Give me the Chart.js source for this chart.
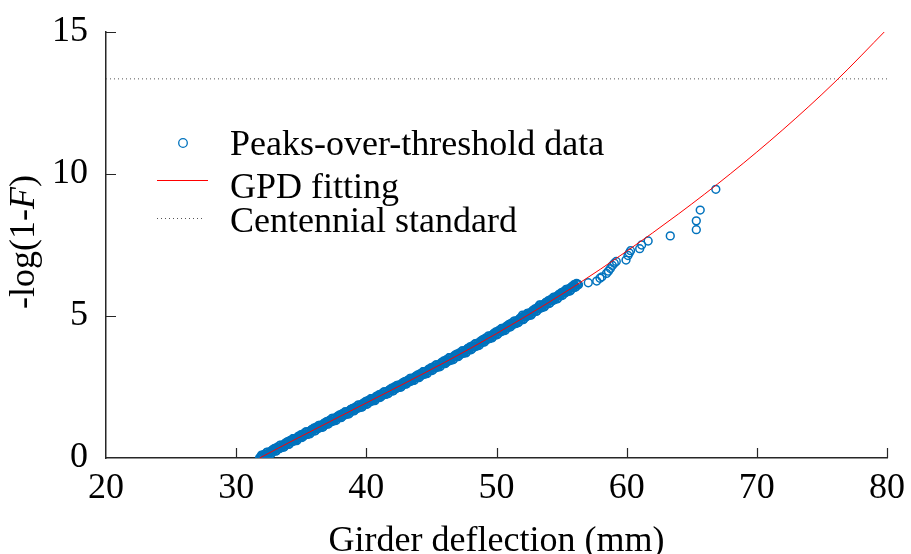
<!DOCTYPE html>
<html><head><meta charset="utf-8">
<script src="https://cdn.jsdelivr.net/npm/chart.js@4.4.1/dist/chart.umd.min.js"></script>
<style>html,body{margin:0;padding:0;background:#fff;} canvas{display:block}</style>
</head><body>
<canvas id="c" width="911" height="554"></canvas>
<script>
// ---------------- data ----------------
const xTickValues = [20, 30, 40, 50, 60, 70, 80];
const yTickValues = [0, 5, 10, 15];
const seriesLabels = ['Peaks-over-threshold data', 'GPD fitting', 'Centennial standard'];
const xTitle = 'Girder deflection (mm)';
const yTitleParts = [['-log(1-', 'normal'], ['F', 'italic'], [')', 'normal']];

// dense part of the peaks-over-threshold sample (first set)
const bandAX = [
31.8,31.9,
32.0,32.1,32.2,32.3,32.4,32.5,32.6,32.7,32.8,32.9,
33.0,33.1,33.2,33.3,33.4,33.5,33.6,33.7,33.8,33.9,
34.0,34.1,34.2,34.3,34.4,34.5,34.6,34.7,34.8,34.9,
35.0,35.1,35.2,35.3,35.4,35.5,35.6,35.7,35.8,35.9,
36.0,36.1,36.2,36.3,36.4,36.5,36.6,36.7,36.8,36.9,
37.0,37.1,37.2,37.3,37.4,37.5,37.6,37.7,37.8,37.9,
38.0,38.1,38.2,38.3,38.4,38.5,38.6,38.7,38.8,38.9,
39.0,39.1,39.2,39.3,39.4,39.5,39.6,39.7,39.8,39.9,
40.0,40.1,40.2,40.3,40.4,40.5,40.6,40.7,40.8,40.9,
41.0,41.1,41.2,41.3,41.4,41.5,41.6,41.7,41.8,41.9,
42.0,42.1,42.2,42.3,42.4,42.5,42.6,42.7,42.8,42.9,
43.0,43.1,43.2,43.3,43.4,43.5,43.6,43.7,43.8,43.9,
44.0,44.1,44.2,44.3,44.4,44.5,44.6,44.7,44.8,44.9,
45.0,45.1,45.2,45.3,45.4,45.5,45.6,45.7,45.8,45.9,
46.0,46.1,46.2,46.3,46.4,46.5,46.6,46.7,46.8,46.9,
47.0,47.1,47.2,47.3,47.4,47.5,47.6,47.7,47.8,47.9,
48.0,48.1,48.2,48.3,48.4,48.5,48.6,48.7,48.8,48.9,
49.0,49.1,49.2,49.3,49.4,49.5,49.6,49.7,49.8,49.9,
50.0,50.1,50.2,50.3,50.4,50.5,50.6,50.7,50.8,50.9,
51.0,51.1,51.2,51.3,51.4,51.5,51.6,51.7,51.8,51.9,
52.0,52.1,52.2,52.3,52.4,52.5,52.6,52.7,52.8,52.9,
53.0,53.1,53.2,53.3,53.4,53.5,53.6,53.7,53.8,53.9,
54.0,54.1,54.2,54.3,54.4,54.5,54.6,54.7,54.8,54.9,
55.0,55.1,55.2,55.3,55.4,55.5,55.6,55.7,55.8,55.9,
56.0,56.1,56.2,56.3
];
const bandAY = [
0.01,0.02,
0.09,0.02,0.12,0.09,0.21,0.13,0.20,0.16,0.29,0.25,
0.33,0.26,0.36,0.33,0.45,0.37,0.44,0.40,0.53,0.49,
0.57,0.50,0.60,0.57,0.68,0.61,0.68,0.64,0.77,0.72,
0.81,0.74,0.83,0.81,0.92,0.84,0.92,0.87,1.00,0.96,
1.04,0.97,1.07,1.04,1.15,1.08,1.15,1.11,1.24,1.19,
1.28,1.21,1.30,1.28,1.39,1.31,1.39,1.34,1.47,1.43,
1.51,1.44,1.54,1.51,1.62,1.55,1.62,1.58,1.71,1.66,
1.75,1.68,1.77,1.75,1.86,1.78,1.86,1.81,1.94,1.90,
1.98,1.91,2.01,1.98,2.09,2.02,2.09,2.05,2.18,2.13,
2.22,2.15,2.24,2.22,2.33,2.25,2.33,2.28,2.41,2.37,
2.45,2.38,2.48,2.45,2.56,2.49,2.56,2.52,2.65,2.60,
2.69,2.62,2.71,2.69,2.80,2.72,2.80,2.75,2.88,2.84,
2.92,2.86,2.95,2.92,3.04,2.96,3.04,2.99,3.13,3.08,
3.17,3.10,3.19,3.17,3.28,3.21,3.28,3.24,3.37,3.33,
3.41,3.35,3.44,3.41,3.53,3.45,3.53,3.48,3.62,3.57,
3.66,3.59,3.68,3.66,3.77,3.70,3.77,3.73,3.86,3.82,
3.90,3.84,3.93,3.91,4.03,3.95,4.03,3.99,4.12,4.08,
4.17,4.10,4.20,4.18,4.29,4.22,4.29,4.25,4.39,4.34,
4.43,4.37,4.46,4.44,4.56,4.48,4.56,4.52,4.65,4.61,
4.70,4.63,4.73,4.71,4.82,4.75,4.82,4.78,4.92,4.87,
5.03,4.90,5.00,4.98,5.09,5.02,5.10,5.06,5.20,5.15,
5.24,5.18,5.28,5.39,5.38,5.30,5.38,5.34,5.48,5.44,
5.53,5.46,5.56,5.54,5.66,5.59,5.67,5.62,5.76,5.72,
5.81,5.75,5.84,5.82,5.94,5.87,5.95,5.91,6.04,6.00,
6.09,6.03,6.12,6.10
];

// dense part (second set, in between the first)
const bandBX = [
31.85,31.95,
32.05,32.15,32.25,32.35,32.45,32.55,32.65,32.75,32.85,32.95,
33.05,33.15,33.25,33.35,33.45,33.55,33.65,33.75,33.85,33.95,
34.05,34.15,34.25,34.35,34.45,34.55,34.65,34.75,34.85,34.95,
35.05,35.15,35.25,35.35,35.45,35.55,35.65,35.75,35.85,35.95,
36.05,36.15,36.25,36.35,36.45,36.55,36.65,36.75,36.85,36.95,
37.05,37.15,37.25,37.35,37.45,37.55,37.65,37.75,37.85,37.95,
38.05,38.15,38.25,38.35,38.45,38.55,38.65,38.75,38.85,38.95,
39.05,39.15,39.25,39.35,39.45,39.55,39.65,39.75,39.85,39.95,
40.05,40.15,40.25,40.35,40.45,40.55,40.65,40.75,40.85,40.95,
41.05,41.15,41.25,41.35,41.45,41.55,41.65,41.75,41.85,41.95,
42.05,42.15,42.25,42.35,42.45,42.55,42.65,42.75,42.85,42.95,
43.05,43.15,43.25,43.35,43.45,43.55,43.65,43.75,43.85,43.95,
44.05,44.15,44.25,44.35,44.45,44.55,44.65,44.75,44.85,44.95,
45.05,45.15,45.25,45.35,45.45,45.55,45.65,45.75,45.85,45.95,
46.05,46.15,46.25,46.35,46.45,46.55,46.65,46.75,46.85,46.95,
47.05,47.15,47.25,47.35,47.45,47.55,47.65,47.75,47.85,47.95,
48.05,48.15,48.25,48.35,48.45,48.55,48.65,48.75,48.85,48.95,
49.05,49.15,49.25,49.35,49.45,49.55,49.65,49.75,49.85,49.95,
50.05,50.15,50.25,50.35,50.45,50.55,50.65,50.75,50.85,50.95,
51.05,51.15,51.25,51.35,51.45,51.55,51.65,51.75,51.85,51.95,
52.05,52.15,52.25,52.35,52.45,52.55,52.65,52.75,52.85,52.95,
53.05,53.15,53.25,53.35,53.45,53.55,53.65,53.75,53.85,53.95,
54.05,54.15,54.25,54.35,54.45,54.55,54.65,54.75,54.85,54.95,
55.05,55.15,55.25,55.35,55.45,55.55,55.65,55.75,55.85,55.95,
56.05,56.15,56.25
];
const bandBY = [
0.00,0.10,
0.00,0.13,0.09,0.20,0.12,0.21,0.14,0.27,0.24,0.34,
0.24,0.38,0.33,0.44,0.36,0.45,0.38,0.51,0.48,0.58,
0.48,0.62,0.57,0.68,0.60,0.69,0.61,0.75,0.72,0.81,
0.72,0.85,0.80,0.92,0.83,0.93,0.85,0.98,0.96,1.05,
0.95,1.09,1.04,1.15,1.07,1.16,1.08,1.22,1.19,1.28,
1.19,1.32,1.27,1.39,1.30,1.40,1.32,1.45,1.43,1.52,
1.42,1.56,1.51,1.62,1.54,1.63,1.55,1.69,1.66,1.75,
1.66,1.79,1.74,1.86,1.77,1.87,1.79,1.92,1.90,1.99,
1.89,2.03,1.98,2.09,2.01,2.10,2.02,2.16,2.13,2.22,
2.13,2.26,2.21,2.33,2.24,2.34,2.26,2.39,2.37,2.46,
2.36,2.50,2.45,2.56,2.48,2.57,2.49,2.63,2.60,2.69,
2.60,2.73,2.68,2.80,2.71,2.81,2.73,2.86,2.84,2.93,
2.83,2.97,2.92,3.04,2.95,3.05,2.97,3.10,3.08,3.17,
3.08,3.21,3.17,3.28,3.20,3.29,3.21,3.35,3.32,3.42,
3.32,3.46,3.41,3.53,3.44,3.54,3.46,3.59,3.57,3.66,
3.57,3.70,3.66,3.77,3.69,3.78,3.70,3.84,3.81,3.91,
3.81,3.95,3.91,4.02,3.94,4.04,3.96,4.10,4.08,4.17,
4.08,4.22,4.17,4.29,4.20,4.30,4.23,4.36,4.34,4.44,
4.34,4.48,4.44,4.55,4.47,4.57,4.49,4.63,4.61,4.70,
4.61,4.75,4.70,4.82,4.73,4.83,4.76,4.89,4.87,4.97,
4.87,5.01,4.97,5.09,5.01,5.11,5.03,5.17,5.15,5.25,
5.16,5.30,5.25,5.37,5.29,5.39,5.32,5.46,5.43,5.53,
5.44,5.58,5.54,5.65,5.57,5.67,5.60,5.74,5.72,5.81,
5.72,5.86,5.82,5.94,5.86,5.95,5.88,6.02,6.00,6.10,
6.01,6.15,6.11
];

// sparse upper tail of the sample
const tailX = [57.05,57.7,57.95,58.1,58.45,58.6,58.75,58.9,59.05,59.2,
               59.95,60.1,60.2,60.3,61.0,61.15,61.65,63.35,65.35,65.35,65.65,66.85];
const tailY = [6.17,6.23,6.33,6.38,6.50,6.58,6.67,6.78,6.86,6.92,
               6.97,7.13,7.22,7.30,7.37,7.50,7.64,7.82,8.04,8.35,8.73,9.46];

const gpdX = [31.8, 34, 36, 40, 44, 48, 52, 56, 60, 64, 68, 72, 76, 80];
const gpdY = [0, 0.53, 1.0, 1.94, 2.88, 3.86, 4.92, 6.05, 7.28, 8.60, 10.02, 11.56, 13.24, 15.1];

const centennialX = [20, 80];
const centennialY = [13.35, 13.35];

// ---------------- style ----------------
const FONT = "'Liberation Serif','Times New Roman',serif";
const BLUE = '#0072BD', RED = '#FF0000', AXIS = '#262626', DOT = '#555555';

const toPts = (xs, ys) => xs.map((x, i) => ({ x: x, y: ys[i] }));
const scatterPts = toPts(bandAX, bandAY).concat(toPts(bandBX, bandBY), toPts(tailX, tailY));

const decor = {
  id: 'decor',
  beforeDraw(chart) {
    const { ctx, width, height } = chart;
    ctx.save(); ctx.fillStyle = '#fff'; ctx.fillRect(0, 0, width, height); ctx.restore();
  },
  afterDraw(chart) {
    const { ctx, chartArea: a, scales: { x, y } } = chart;
    ctx.save();
    // inward ticks
    ctx.strokeStyle = AXIS; ctx.lineWidth = 1.2;
    ctx.beginPath();
    xTickValues.forEach(v => {
      if (v === x.min) return;
      const px = Math.round(x.getPixelForValue(v)) + 0.5;
      ctx.moveTo(px, a.bottom); ctx.lineTo(px, a.bottom - 10);
    });
    yTickValues.forEach(v => {
      if (v === y.min) return;
      const py = Math.round(y.getPixelForValue(v)) + 0.5;
      ctx.moveTo(a.left, py); ctx.lineTo(a.left + 10, py);
    });
    ctx.stroke();

    // legend
    const ds = chart.data.datasets;
    const byLabel = l => ds.find(d => d.label === l);
    const sc = byLabel(seriesLabels[0]), gp = byLabel(seriesLabels[1]), ce = byLabel(seriesLabels[2]);
    ctx.strokeStyle = sc.pointBorderColor; ctx.lineWidth = 1.3;
    ctx.beginPath(); ctx.arc(183, 143, 4.3, 0, Math.PI * 2); ctx.stroke();
    ctx.strokeStyle = gp.borderColor; ctx.lineWidth = gp.borderWidth;
    ctx.beginPath(); ctx.moveTo(157, 180.5); ctx.lineTo(208, 180.5); ctx.stroke();
    ctx.strokeStyle = ce.borderColor; ctx.lineWidth = ce.borderWidth; ctx.setLineDash(ce.borderDash);
    ctx.beginPath(); ctx.moveTo(157, 218.5); ctx.lineTo(204, 218.5); ctx.stroke();
    ctx.setLineDash([]);
    ctx.fillStyle = '#000'; ctx.font = '36px ' + FONT;
    ctx.textAlign = 'left'; ctx.textBaseline = 'alphabetic';
    ctx.fillText(sc.label, 230, 155);
    ctx.fillText(gp.label, 230, 198);
    ctx.fillText(ce.label, 230, 232);

    // x title
    ctx.textAlign = 'center';
    ctx.fillText(xTitle, (a.left + a.right) / 2, 551);

    // y title (mixed italic)
    ctx.translate(25, 242); ctx.rotate(-Math.PI / 2);
    ctx.textBaseline = 'middle'; ctx.textAlign = 'left';
    let total = 0;
    const widths = yTitleParts.map(([t, st]) => { ctx.font = st + ' 36px ' + FONT; const w = ctx.measureText(t).width; total += w; return w; });
    let cx = -total / 2;
    yTitleParts.forEach(([t, st], i) => { ctx.font = st + ' 36px ' + FONT; ctx.fillText(t, cx, 0); cx += widths[i]; });
    ctx.restore();
  }
};

new Chart(document.getElementById('c'), {
  type: 'scatter',
  data: {
    datasets: [
      { label: seriesLabels[1], data: toPts(gpdX, gpdY), showLine: true, borderColor: RED, borderWidth: 1,
        pointRadius: 0, cubicInterpolationMode: 'monotone', order: 0 },
      { label: seriesLabels[2], data: toPts(centennialX, centennialY), showLine: true, borderColor: DOT, borderWidth: 1,
        borderDash: [1, 3], pointRadius: 0, order: 1 },
      { label: seriesLabels[0], data: scatterPts, showLine: false, pointStyle: 'circle',
        pointRadius: 3.9, pointBorderWidth: 1.5, pointBorderColor: BLUE, pointBackgroundColor: 'rgba(0,0,0,0)',
        borderColor: BLUE, backgroundColor: 'rgba(0,0,0,0)', order: 2 }
    ]
  },
  options: {
    responsive: false, animation: false, devicePixelRatio: 1,
    layout: { padding: { left: 0, top: 32, right: 24, bottom: 0 } },
    plugins: { legend: { display: false }, tooltip: { enabled: false } },
    scales: {
      x: {
        type: 'linear', min: 20, max: 80,
        afterBuildTicks: s => { s.ticks = xTickValues.map(v => ({ value: v })); },
        afterFit: s => { s.height = 96; s.paddingLeft = 0; s.paddingRight = 0; },
        grid: { display: false, drawTicks: false },
        border: { display: true, color: AXIS, width: 1.5 },
        ticks: { padding: 9, color: '#000', font: { family: FONT, size: 36 }, maxRotation: 0, autoSkip: false }
      },
      y: {
        type: 'linear', min: 0, max: 15,
        afterBuildTicks: s => { s.ticks = yTickValues.map(v => ({ value: v })); },
        afterFit: s => { s.width = 106; s.paddingTop = 0; s.paddingBottom = 0; },
        grid: { display: false, drawTicks: false },
        border: { display: true, color: AXIS, width: 1.5 },
        ticks: { padding: 18, color: '#000', font: { family: FONT, size: 36 }, autoSkip: false }
      }
    }
  },
  plugins: [decor]
});
</script>
</body></html>
